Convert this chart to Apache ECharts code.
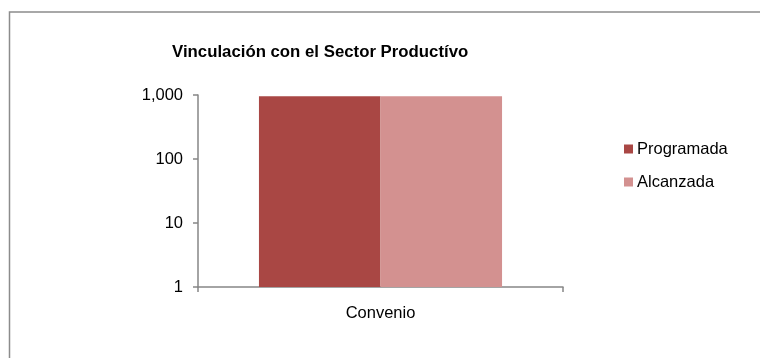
<!DOCTYPE html>
<html><head><meta charset="utf-8">
<script src="https://cdn.jsdelivr.net/npm/echarts@6/dist/echarts.min.js"></script>
<style>html,body{margin:0;padding:0;background:#fff}#c{width:760px;height:358px}</style>
</head><body><div id="c"></div>
<script>
const categories = ['Convenio'];
const seriesNames = ['Programada', 'Alcanzada'];
const programada = [960];
const alcanzada = [960];
const yTicks = [1, 10, 100, 1000];
const title = 'Vinculación con el Sector Productívo';

const chart = echarts.init(document.getElementById('c'), null, {renderer: 'canvas'});
const font = 'Liberation Sans, Arial, sans-serif';
chart.setOption({
  animation: false,
  backgroundColor: '#fff',
  graphic: [{
    type: 'rect', left: 7, top: 9.5, silent: true,
    shape: {width: 800, height: 400},
    style: {fill: 'none', stroke: '#8c8c8c', lineWidth: 1.5}
  }],
  title: {
    text: title, left: 172, top: 44, padding: 0,
    textStyle: {fontFamily: font, fontSize: 16.8, fontWeight: 'bold', color: '#000'}
  },
  legend: {
    orient: 'vertical', left: 619, top: 135,
    icon: 'rect', itemWidth: 9, itemHeight: 9, itemGap: 15,
    data: seriesNames,
    textStyle: {fontFamily: font, fontSize: 16.5, lineHeight: 18, color: '#000', padding: [0, 0, 0, -1]}
  },
  grid: {left: 198, top: 95, width: 365, height: 192, containLabel: false},
  xAxis: {
    type: 'category', data: categories,
    axisLine: {lineStyle: {color: '#868686', width: 1.5}},
    axisTick: {show: true, length: 5, lineStyle: {color: '#868686', width: 1.5}},
    axisLabel: {fontFamily: font, fontSize: 16.5, color: '#000', margin: 18}
  },
  yAxis: {
    type: 'log', logBase: 10, min: yTicks[0], max: yTicks[yTicks.length - 1],
    axisLine: {show: true, lineStyle: {color: '#868686', width: 1.5}},
    axisTick: {show: true, length: 5, lineStyle: {color: '#868686', width: 1.5}},
    splitLine: {show: false},
    axisLabel: {fontFamily: font, fontSize: 16.5, color: '#000', margin: 15,
      formatter: v => Math.round(v).toLocaleString('en-US')}
  },
  series: [
    {name: seriesNames[0], type: 'bar', data: programada, barGap: '0%', barCategoryGap: '33.4%',
     itemStyle: {color: '#A94744'}},
    {name: seriesNames[1], type: 'bar', data: alcanzada, barGap: '0%', barCategoryGap: '33.4%',
     itemStyle: {color: '#D39190'}}
  ]
});
</script></body></html>
